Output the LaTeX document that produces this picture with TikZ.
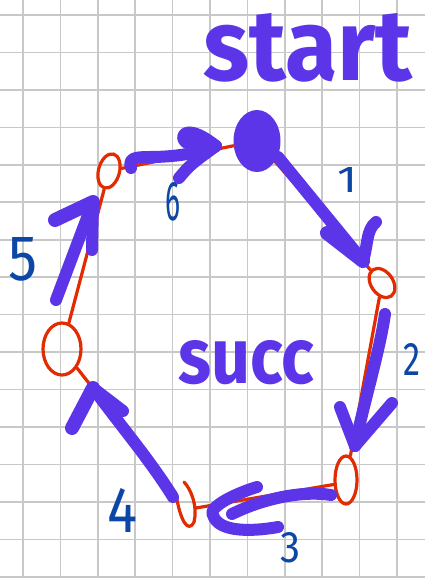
\documentclass[tikz,border=0pt]{standalone}
\usepackage{graphicx}
\usepackage{fontspec}
\setmainfont{Fira Sans}
\usetikzlibrary{shapes.geometric}
\definecolor{pur}{RGB}{92,53,232}
\definecolor{rd}{RGB}{226,43,0}
\definecolor{bl}{RGB}{12,71,166}
\definecolor{gridc}{RGB}{200,200,200}
\begin{document}
\begin{tikzpicture}[x=1pt,y=-1pt,
 gridline/.style={gridc,line width=1.6pt},
 redline/.style={rd,line width=3.2pt,line cap=round},
 redloop/.style={draw=rd,line width=3.2pt,ellipse,inner sep=0pt},
 hidden/.style={ellipse,inner sep=0pt},
 stroke/.style={pur,line width=12pt,line cap=round,line join=round},
 barb/.style={pur,line width=14pt,line cap=round,line join=round},
 blob/.style={fill=pur,ellipse,inner sep=0pt,minimum width=47pt,minimum height=62pt},
 num/.style={text=bl,inner sep=0pt,anchor=base west},
 word/.style={text=pur,inner sep=0pt,anchor=base west,font=\bfseries}]
\useasboundingbox (0,0) rectangle (425,578);
\fill[white] (0,0) rectangle (425,578);
\foreach \i in {0,...,10} \draw[gridline] ({23+37.4*\i},0) -- ++(0,578);
\foreach \j in {0,...,15} \draw[gridline] (0,{15+37.45*\j}) -- ++(425,0);
% nodes
\node[redloop,minimum width=22pt,minimum height=32pt,rotate=35] (n1) at (382,283) {};
\node[redloop,minimum width=22pt,minimum height=48pt] (n2) at (346,480) {};
\node[hidden,minimum width=22pt,minimum height=46pt] (n3) at (185,505) {};
\draw[redline] (176,494) .. controls (180,520) and (188,534) .. (194,522) .. controls (198,507) and (191,489) .. (184,482);
\node[redloop,minimum width=38pt,minimum height=52pt] (n4) at (62,349) {};
\node[redloop,minimum width=21pt,minimum height=35pt,rotate=-15] (n5) at (109,171) {};
\node[blob] (s) at (257,141) {};
% red connectors
\draw[redline] (s) -- (n1);
\draw[redline] (n1) -- (n2);
\draw[redline] (n2.200) -- (n3.-15);
\draw[redline] (n3) -- (n4);
\draw[redline] (n4) -- (n5);
\draw[redline] (n5) -- (s);
% purple arrows
\coordinate (a1s) at (278,157); \coordinate (a1t) at (363,261);
\draw[stroke] (a1s) -- (a1t);
\draw[barb] (a1t) -- (327,233);
\draw[stroke] (a1t) .. controls (368,245) and (366,230) .. (376,222);
\coordinate (a2s) at (385,314); \coordinate (a2t) at (355,446);
\draw[stroke] (a2s) .. controls (380,350) and (362,410) .. (a2t);
\draw[stroke] (a2t) -- (340,407);
\draw[stroke] (a2t) -- (392,403);
\coordinate (a3s) at (331,495); \coordinate (a3t) at (213,515);
\draw[stroke] (a3s) .. controls (300,490) and (260,500) .. (232,514);
\draw[stroke] (257,487) .. controls (225,497) and (208,510) .. (a3t) .. controls (218,532) and (250,532) .. (278,527);
\coordinate (a4s) at (173,497); \coordinate (a4t) at (93,388);
\draw[stroke] (a4s) .. controls (150,460) and (120,425) .. (a4t);
\draw[barb] (a4t) -- (72,428);
\draw[stroke] (a4t) -- (123,411);
\coordinate (a5s) at (56,300); \coordinate (a5t) at (93,202);
\draw[stroke] (a5s) -- (a5t);
\draw[barb] (a5t) -- (55,220);
\draw[stroke] (a5t) -- (92,250);
\coordinate (a6s) at (131,168); \coordinate (a6t) at (216,146);
\draw[stroke] (a6s) .. controls (128,158) and (135,157) .. (150,157) .. controls (175,157) and (200,153) .. (a6t);
\draw[stroke] (179,178) .. controls (190,165) .. (a6t);
\draw[stroke] (a6t) .. controls (200,133) and (185,128) .. (183,137) .. controls (183,146) and (200,146) .. (208,146);
% texts
\node[word] (title) at (203,80) {\resizebox{209pt}{67pt}{start}};
\node[word] (mid) at (178,383) {\resizebox{136pt}{43pt}{succ}};
\node[num] (d1) at (337,192) {\resizebox{20pt}{25pt}{1}};
\node[num] (d2) at (403,375) {\resizebox{17pt}{32pt}{2}};
\node[num] (d3) at (280,562) {\resizebox{20pt}{30pt}{3}};
\node[num] (d4) at (107,532) {\resizebox{30pt}{44pt}{4}};
\node[num] (d5) at (8,280) {\resizebox{29pt}{43pt}{5}};
\node[num] (d6) at (165,220) {\resizebox{15pt}{38pt}{6}};
\end{tikzpicture}
\end{document}
